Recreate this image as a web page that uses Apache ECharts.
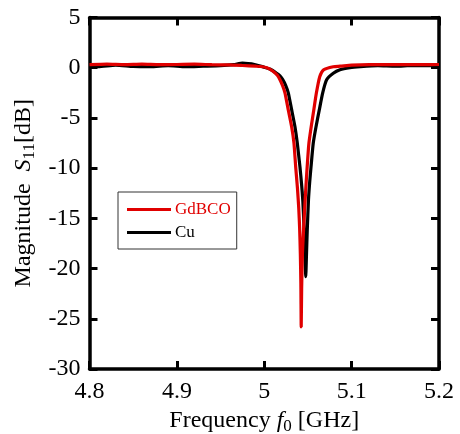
<!DOCTYPE html>
<html>
<head>
<meta charset="utf-8">
<script src="https://cdn.jsdelivr.net/npm/echarts@6/dist/echarts.min.js"></script>
<style>html,body{margin:0;padding:0;background:#fff}#c{width:460px;height:434px}</style>
</head>
<body>
<div id="c"></div>
<script>
const seriesNames = ['GdBCO', 'Cu'];
const freqGd = [4.80, 4.82, 4.84, 4.86, 4.88, 4.90, 4.92, 4.94, 4.96, 4.975, 4.99, 4.9954, 5.003, 5.0104, 5.015, 5.018, 5.021, 5.0237, 5.0275, 5.0314, 5.034, 5.036, 5.0380, 5.0395, 5.0405, 5.0413, 5.0419, 5.0423, 5.0428, 5.0437, 5.0452, 5.0469, 5.0480, 5.0491, 5.0510, 5.0537, 5.0567, 5.0597, 5.0635, 5.068, 5.079, 5.087, 5.100, 5.120, 5.140, 5.160, 5.180, 5.200];
const magGd  = [0.30, 0.35, 0.30, 0.35, 0.30, 0.32, 0.35, 0.30, 0.28, 0.22, 0.15, 0.12, 0.00, -0.37, -0.75, -1.20, -1.80, -2.50, -4.20, -5.90, -7.50, -9.90, -12.0, -14.0, -16.0, -18.5, -21.5, -25.8, -22.0, -18.5, -15.8, -13.0, -11.4, -9.90, -7.60, -5.90, -4.20, -2.50, -0.90, -0.20, 0.10, 0.15, 0.25, 0.30, 0.30, 0.32, 0.30, 0.32];
const freqCu = [4.80, 4.81, 4.83, 4.85, 4.87, 4.89, 4.91, 4.93, 4.95, 4.965, 4.975, 4.99, 5.000, 5.007, 5.0142, 5.018, 5.021, 5.0245, 5.0275, 5.0314, 5.0352, 5.0378, 5.0409, 5.0427, 5.0441, 5.0452, 5.0463, 5.0470, 5.0475, 5.0482, 5.0492, 5.0506, 5.0520, 5.0535, 5.0561, 5.0592, 5.0630, 5.0669, 5.0714, 5.079, 5.0867, 5.098, 5.110, 5.130, 5.150, 5.170, 5.190, 5.200];
const magCu  = [0.20, 0.10, 0.25, 0.12, 0.10, 0.20, 0.10, 0.15, 0.20, 0.30, 0.45, 0.30, 0.05, -0.15, -0.55, -0.80, -1.15, -1.75, -2.50, -4.20, -5.90, -7.50, -9.90, -11.6, -13.2, -15.2, -17.5, -19.5, -20.8, -19.0, -16.2, -13.2, -11.4, -9.90, -7.50, -5.90, -4.20, -2.50, -1.20, -0.55, -0.20, 0.00, 0.10, 0.20, 0.15, 0.22, 0.20, 0.25];
const xMin = 4.8, xMax = 5.2, xStep = 0.1;
const yMin = -30, yMax = 5, yStep = 5;

const font = 'Liberation Serif';
const chart = echarts.init(document.getElementById('c'), null, {renderer: 'canvas'});
const axisCommon = {
  axisLine: {show: true, onZero: false, lineStyle: {color: '#000', width: 3.5}},
  axisTick: {show: true, inside: true, length: 8, lineStyle: {color: '#000', width: 3}},
  splitLine: {show: false}
};
const sub = {fontFamily: font, fontSize: 17, color: '#000', verticalAlign: 'bottom', padding: [11, 0, 0, 0]};
const norm = {fontFamily: font, fontSize: 24, color: '#000'};
const ital = {fontFamily: font, fontSize: 24, color: '#000', fontStyle: 'italic'};
chart.setOption({
  animation: false,
  backgroundColor: '#fff',
  grid: {left: 89.5, right: 21, top: 17.5, bottom: 65, containLabel: false, outerBoundsMode: 'none'},
  legend: {
    orient: 'vertical', left: 118, top: 192,
    padding: [9, 6, 8, 9], itemGap: 6,
    borderColor: '#333', borderWidth: 1,
    icon: 'rect', itemWidth: 44, itemHeight: 3,
    data: [
      {name: seriesNames[0], textStyle: {color: '#e00000'}},
      {name: seriesNames[1], textStyle: {color: '#000'}}
    ],
    textStyle: {fontFamily: font, fontSize: 17, padding: [0, 0, 0, -1]}
  },
  xAxis: [
    Object.assign({}, axisCommon, {
      type: 'value', position: 'bottom', min: xMin, max: xMax, interval: xStep,
      axisLabel: {fontFamily: font, fontSize: 24, color: '#000', margin: 11},
      name: '{n|Frequency }{i|f}{s|0}{n| [GHz]}', nameLocation: 'middle', nameGap: 36,
      nameTextStyle: {rich: {n: norm, i: ital, s: sub}}
    }),
    Object.assign({}, axisCommon, {
      type: 'value', position: 'top', min: xMin, max: xMax, interval: xStep,
      axisLabel: {show: false}
    })
  ],
  yAxis: [
    Object.assign({}, axisCommon, {
      type: 'value', position: 'left', min: yMin, max: yMax, interval: yStep,
      axisLabel: {fontFamily: font, fontSize: 24, color: '#000', margin: 9},
      name: '{n|Magnitude  }{i|S}{s|11}{n|[dB]}', nameLocation: 'middle', nameGap: 49, nameRotate: 90,
      nameTextStyle: {rich: {n: norm, i: ital, s: sub}}
    }),
    Object.assign({}, axisCommon, {
      type: 'value', position: 'right', min: yMin, max: yMax, interval: yStep,
      axisLabel: {show: false}
    })
  ],
  series: [
    {
      name: seriesNames[1], type: 'line', showSymbol: false, smooth: 0.2,
      lineStyle: {color: '#000', width: 3.2}, itemStyle: {color: '#000'},
      data: freqCu.map((f, i) => [f, magCu[i]]), z: 2
    },
    {
      name: seriesNames[0], type: 'line', showSymbol: false, smooth: 0.2,
      lineStyle: {color: '#e00000', width: 3.2}, itemStyle: {color: '#e00000'},
      data: freqGd.map((f, i) => [f, magGd[i]]), z: 3
    }
  ]
});
</script>
</body>
</html>
